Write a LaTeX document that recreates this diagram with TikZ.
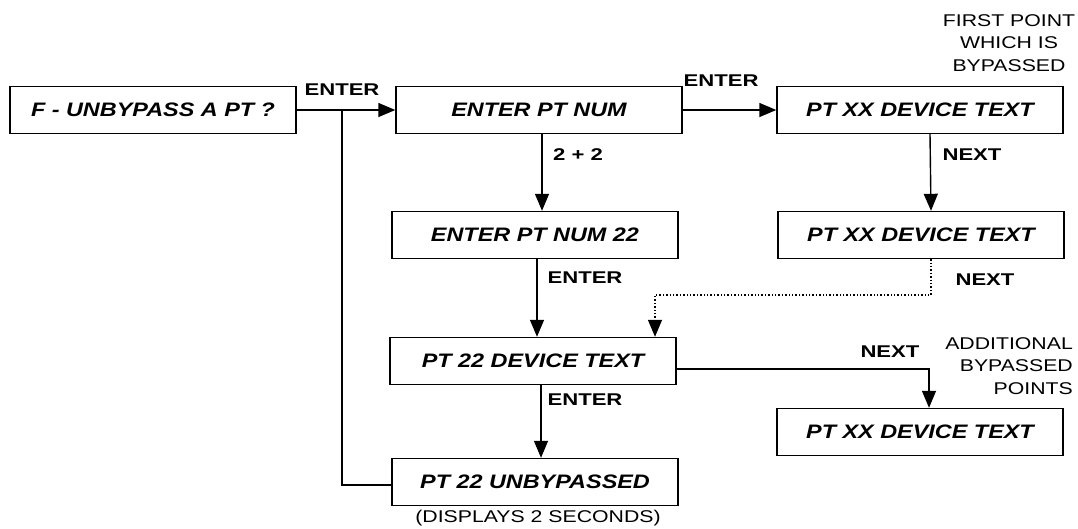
\documentclass[tikz,border=0pt]{standalone}
\usepackage{fontspec}
\usetikzlibrary{arrows.meta}
\newfontfamily\boxfont[FakeStretch=1.2]{Liberation Sans}
\newfontfamily\labfont[FakeStretch=1.3]{Liberation Sans}
\newfontfamily\notefont[FakeStretch=1.25]{Liberation Sans}
\tikzset{
  box/.style={draw, line width=1.4pt, minimum width=286pt, minimum height=47pt,
    inner sep=0pt, font=\boxfont\bfseries\itshape\fontsize{19.5}{21}\selectfont},
  lab/.style={font=\labfont\bfseries\fontsize{17}{18}\selectfont, inner sep=0pt},
  note/.style={font=\notefont\fontsize{17}{22.5}\selectfont, inner sep=0pt},
  arr/.style={line width=1.4pt, -{Triangle[length=17pt,width=14pt]}},
  wire/.style={line width=1.4pt}
}
\begin{document}
\begin{tikzpicture}[x=1pt,y=-1pt]
\useasboundingbox (0,0) rectangle (1078,528);

\node[box] (fq) at (153,110) {F - UNBYPASS A PT ?};
\node[box] (num) at (539,110) {ENTER PT NUM};
\node[box] (xx1) at (920,110) {PT XX DEVICE TEXT};
\node[box] (num22) at (535,235) {ENTER PT NUM 22};
\node[box] (xx2) at (921,235) {PT XX DEVICE TEXT};
\node[box] (dev) at (533,361) {PT 22 DEVICE TEXT};
\node[box] (xx3) at (920,432) {PT XX DEVICE TEXT};
\node[box] (unb) at (535,482) {PT 22 UNBYPASSED};

\coordinate (j) at (342,110);
\coordinate (dt) at (655,295);

\draw[arr] (fq.east) -- (num.west);
\draw[wire] (j) |- ([yshift=-3pt]unb.west);
\draw[arr] (num.east) -- (xx1.west);
\draw[arr] ([xshift=10pt]xx1.south) -- ([xshift=10pt]xx2.north);
\draw[arr] ([xshift=3pt]num.south) -- ([xshift=3pt]num.south |- num22.north);
\draw[arr] ([xshift=2pt]num22.south) -- ([xshift=2pt]num22.south |- dev.north);
\draw[arr] ([xshift=8pt]dev.south) -- ([xshift=8pt]dev.south |- unb.north);
\draw[arr, dotted] ([xshift=10pt]xx2.south) |- (dt) -- (dt |- dev.north);
\draw[arr] ([yshift=-8pt]dev.east) -| ([xshift=9pt]xx3.north);

\node[lab] (e1) at (342,90) {ENTER};
\node[lab] (e2) at (721,81) {ENTER};
\node[lab] (plus) at (578,155) {2 + 2};
\node[lab] (e3) at (585,278) {ENTER};
\node[lab] (e4) at (585,400) {ENTER};
\node[lab] (n1) at (972,155) {NEXT};
\node[lab] (n2) at (985,280) {NEXT};
\node[lab] (n3) at (890,352) {NEXT};

\node[note, align=center] (first) at (1009,43) {FIRST POINT\\WHICH IS\\BYPASSED};
\node[note, align=right, anchor=east] (addl) at (1073,366) {ADDITIONAL\\BYPASSED\\POINTS};
\node[note] (disp) at (538,518) {(DISPLAYS 2 SECONDS)};
\end{tikzpicture}
\end{document}
